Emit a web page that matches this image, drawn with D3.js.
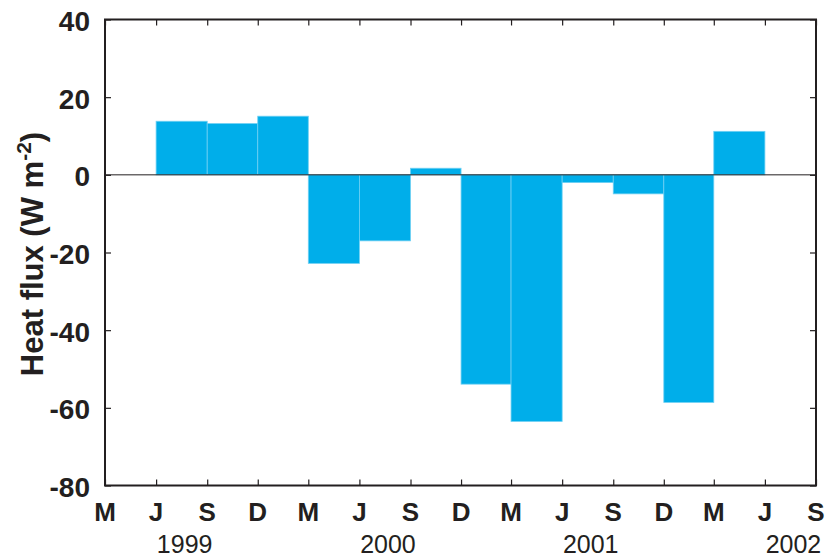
<!DOCTYPE html>
<html>
<head>
<meta charset="utf-8">
<script src="https://cdn.jsdelivr.net/npm/d3@7"></script>
<style>
  html, body { margin: 0; padding: 0; background: #fff; }
  svg { display: block; }
</style>
</head>
<body>
<svg id="chart" width="826" height="558"></svg>
<script>
// Quarterly boundaries (first day of Mar, Jun, Sep, Dec)
const tickDates = [
  "1999-03-01", "1999-06-01", "1999-09-01", "1999-12-01",
  "2000-03-01", "2000-06-01", "2000-09-01", "2000-12-01",
  "2001-03-01", "2001-06-01", "2001-09-01", "2001-12-01",
  "2002-03-01", "2002-06-01", "2002-09-01"
];
const tickLabels = ["M", "J", "S", "D", "M", "J", "S", "D", "M", "J", "S", "D", "M", "J", "S"];

// Mean heat flux for each quarter (start, end, W m-2)
const periodStart = ["1999-06-01", "1999-09-01", "1999-12-01", "2000-03-01", "2000-06-01", "2000-09-01",
                     "2000-12-01", "2001-03-01", "2001-06-01", "2001-09-01", "2001-12-01", "2002-03-01"];
const periodEnd   = ["1999-09-01", "1999-12-01", "2000-03-01", "2000-06-01", "2000-09-01", "2000-12-01",
                     "2001-03-01", "2001-06-01", "2001-09-01", "2001-12-01", "2002-03-01", "2002-06-01"];
const heatFlux    = [13.8, 13.2, 15.1, -22.8, -17.0, 1.7, -53.9, -63.5, -2.0, -4.9, -58.6, 11.2];

// Year labels, placed between the June and September ticks
const years = ["1999", "2000", "2001", "2002"];
const yearFrom = ["1999-06-01", "2000-06-01", "2001-06-01", "2002-06-01"];
const yearTo   = ["1999-09-01", "2000-09-01", "2001-09-01", "2002-09-01"];

const yTicks = [-80, -60, -40, -20, 0, 20, 40];

const parse = d3.utcParse("%Y-%m-%d");
const margin = { left: 105, right: 10, top: 19.5, bottom: 72.5 };
const W = 826, H = 558;
const x0 = margin.left, x1 = W - margin.right;
const y0 = margin.top, y1 = H - margin.bottom;

const x = d3.scaleUtc()
  .domain([parse(tickDates[0]), parse(tickDates[tickDates.length - 1])])
  .range([x0, x1]);
const y = d3.scaleLinear().domain([-80, 40]).range([y1, y0]);

const svg = d3.select("#chart");
const ink = "#231f20";
const font = "'Liberation Sans', Arial, Helvetica, sans-serif";

// Bars
const bars = heatFlux.map((v, i) => ({ s: parse(periodStart[i]), e: parse(periodEnd[i]), v }));
svg.append("g").selectAll("rect").data(bars).join("rect")
  .attr("x", d => x(d.s))
  .attr("width", d => x(d.e) - x(d.s))
  .attr("y", d => y(Math.max(0, d.v)))
  .attr("height", d => Math.abs(y(d.v) - y(0)))
  .attr("fill", "#00aeea")
  .attr("stroke", "#6fd0f3")
  .attr("stroke-width", 0.8);

// Zero line
svg.append("line")
  .attr("x1", x0).attr("x2", x1)
  .attr("y1", y(0)).attr("y2", y(0))
  .attr("stroke", ink).attr("stroke-width", 1);

// Axes with inward ticks on all four sides
const dates = tickDates.map(parse);
const tickLen = 6;
const bottomAxis = d3.axisBottom(x).tickValues(dates).tickSize(-tickLen).tickFormat("");
const topAxis = d3.axisTop(x).tickValues(dates).tickSize(-tickLen).tickFormat("");
const leftAxis = d3.axisLeft(y).tickValues(yTicks).tickSize(-tickLen).tickFormat("");
const rightAxis = d3.axisRight(y).tickValues(yTicks).tickSize(-tickLen).tickFormat("");

function styleAxis(g) {
  g.select(".domain").remove();
  g.selectAll(".tick line").attr("stroke", ink).attr("stroke-width", 1.2);
}
svg.append("g").attr("transform", `translate(0,${y1})`).call(bottomAxis).call(styleAxis);
svg.append("g").attr("transform", `translate(0,${y0})`).call(topAxis).call(styleAxis);
svg.append("g").attr("transform", `translate(${x0},0)`).call(leftAxis).call(styleAxis);
svg.append("g").attr("transform", `translate(${x1},0)`).call(rightAxis).call(styleAxis);

// Frame
svg.append("rect")
  .attr("x", x0).attr("y", y0)
  .attr("width", x1 - x0).attr("height", y1 - y0)
  .attr("fill", "none").attr("stroke", ink).attr("stroke-width", 2);

// Y tick labels
svg.append("g").selectAll("text").data(yTicks).join("text")
  .attr("x", x0 - 15)
  .attr("y", d => y(d) + 11.5)
  .attr("text-anchor", "end")
  .attr("font-family", font).attr("font-weight", "bold").attr("font-size", 28)
  .attr("fill", ink)
  .text(d => d);

// X tick labels (month initials)
svg.append("g").selectAll("text").data(dates).join("text")
  .attr("x", d => x(d))
  .attr("y", 521)
  .attr("text-anchor", "middle")
  .attr("font-family", font).attr("font-weight", "bold").attr("font-size", 26)
  .attr("fill", ink)
  .text((d, i) => tickLabels[i]);

// Year labels
svg.append("g").selectAll("text").data(years).join("text")
  .attr("x", (d, i) => (x(parse(yearFrom[i])) + x(parse(yearTo[i]))) / 2 + 3)
  .attr("y", 553)
  .attr("text-anchor", "middle")
  .attr("font-family", font).attr("font-size", 25)
  .attr("fill", ink)
  .text(d => d);

// Y axis title
const title = svg.append("text")
  .attr("transform", "translate(43,254) rotate(-90)")
  .attr("text-anchor", "middle")
  .attr("font-family", font).attr("font-weight", "bold").attr("font-size", 31)
  .attr("fill", ink);
title.append("tspan").text("Heat flux (W m");
title.append("tspan").attr("dy", -12).attr("font-size", 21).text("-2");
title.append("tspan").attr("dy", 12).text(")");
</script>
</body>
</html>
